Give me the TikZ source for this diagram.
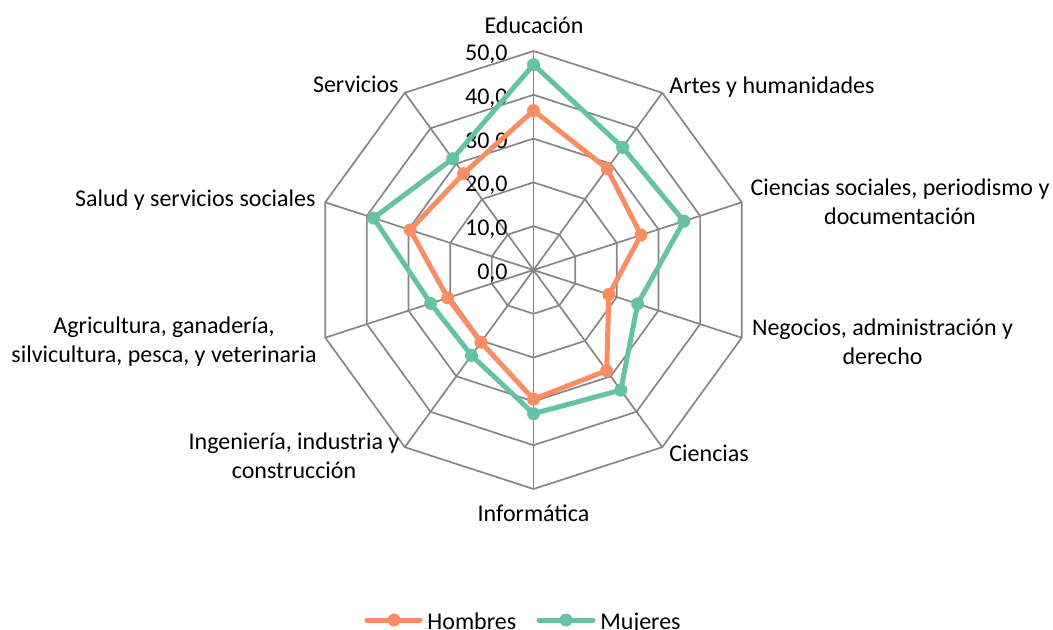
\documentclass[tikz,border=0pt]{standalone}
\usepackage{fontspec}
\setmainfont{Carlito}
\usetikzlibrary{calc}
\definecolor{hom}{HTML}{FC8D62}
\definecolor{muj}{HTML}{66C2A5}
\definecolor{gridc}{HTML}{868686}
\begin{document}
\begin{tikzpicture}[x=0.5pt,y=-0.5pt,
  font=\fontsize{12}{14.5}\selectfont,
  gridline/.style={draw=gridc,line width=0.85pt},
  homline/.style={draw=hom,line width=2.5pt,line join=round,line cap=round},
  mujline/.style={draw=muj,line width=2.5pt,line join=round,line cap=round},
  homdot/.style={circle,fill=hom,inner sep=0pt,minimum size=6.5pt},
  mujdot/.style={circle,fill=muj,inner sep=0pt,minimum size=6.5pt},
  ticklab/.style={anchor=base east,inner sep=0pt},
  catlab/.style={inner sep=0pt,align=center}]
\useasboundingbox (0,0) rectangle (1053,630);
\def\cx{533.5}\def\cy{270}\def\rr{219}
\coordinate (C) at (\cx,\cy);
% grid rings
\foreach \k in {1,...,5}{
  \pgfmathsetmacro\rad{\rr*\k/5}
  \draw[gridline] plot[samples at={0,36,...,324}] ({\cx+\rad*sin(\x)},{\cy-\rad*cos(\x)}) -- cycle;
}
% spokes
\foreach \i in {0,...,9}{
  \coordinate (ax\i) at ({\cx+\rr*sin(36*\i)},{\cy-\rr*cos(36*\i)});
  \draw[gridline] (C) -- (ax\i);
}
% tick labels
\foreach \k/\t in {0/{0,0},1/{10,0},2/{20,0},3/{30,0},4/{40,0},5/{50,0}}{
  \node[ticklab] (tick\k) at (508,{\cy-\rr*\k/5+9.5}) {\t};
}
% data
\foreach \v [count=\i from 0] in {36.4,28.6,25.8,18.1,28.4,29.5,20.4,20.6,29.6,27.2}{
  \coordinate (h\i) at ({\cx+\rr/50*\v*sin(36*\i)},{\cy-\rr/50*\v*cos(36*\i)});
}
\foreach \v [count=\i from 0] in {46.9,34.6,36.1,25.0,33.9,32.8,24.1,24.7,38.4,31.4}{
  \coordinate (m\i) at ({\cx+\rr/50*\v*sin(36*\i)},{\cy-\rr/50*\v*cos(36*\i)});
}
\draw[homline] (h0)--(h1)--(h2)--(h3)--(h4)--(h5)--(h6)--(h7)--(h8)--(h9)--cycle;
\foreach \i in {0,...,9}{\node[homdot] (hd\i) at (h\i) {};}
\draw[mujline] (m0)--(m1)--(m2)--(m3)--(m4)--(m5)--(m6)--(m7)--(m8)--(m9)--cycle;
\foreach \i in {0,...,9}{\node[mujdot] (md\i) at (m\i) {};}
% category labels
\node[catlab,anchor=base] (l0) at (534,33.3) {Educación};
\node[catlab,anchor=base west] (l1) at (669,93.3) {Artes y humanidades};
\node[catlab] (l2) at (900,202) {Ciencias sociales, periodismo y\\documentación};
\node[catlab] (l3) at (882.5,342) {Negocios, administración y\\derecho};
\node[catlab,anchor=base west] (l4) at (669,461.7) {Ciencias};
\node[catlab,anchor=base] (l5) at (533.5,521.7) {Informática};
\node[catlab] (l6) at (294,455.5) {Ingeniería, industria y\\construcción};
\node[catlab] (l7) at (164,342) {Agricultura, ganadería,\\silvicultura, pesca, y veterinaria};
\node[catlab,anchor=base east] (l8) at (316,206.7) {Salud y servicios sociales};
\node[catlab,anchor=base east] (l9) at (399,92.3) {Servicios};
% legend
\coordinate (lh1) at (367,620); \coordinate (lh2) at (420,620);
\draw[homline] (lh1) -- (lh2);
\node[homdot] (lhd) at (394,620) {};
\node[catlab,anchor=base west] (lht) at (427,629) {Hombres};
\coordinate (lm1) at (539,620); \coordinate (lm2) at (593,620);
\draw[mujline] (lm1) -- (lm2);
\node[mujdot] (lmd) at (566,620) {};
\node[catlab,anchor=base west] (lmt) at (600,629) {Mujeres};
\end{tikzpicture}
\end{document}
